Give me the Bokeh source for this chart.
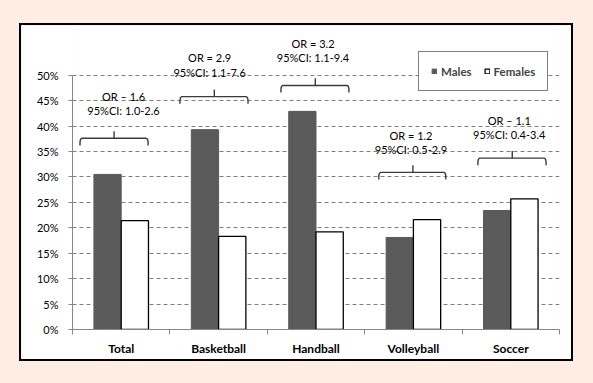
from bokeh.plotting import figure
from bokeh.models import (Range1d, FixedTicker, CustomJSTickFormatter, Legend,
                          LegendItem, ColumnDataSource)
from bokeh.core.properties import value
from bokeh.embed import file_html
from bokeh.resources import INLINE

# ---- data ----
categories = ["Total", "Basketball", "Handball", "Volleyball", "Soccer"]
males = [30.5, 39.3, 42.9, 18.1, 23.4]
females = [21.4, 18.3, 19.2, 21.6, 25.7]
or_labels = ["OR \u2013 1.6", "OR = 2.9", "OR = 3.2", "OR = 1.2", "OR \u2013 1.1"]
ci_labels = ["95%CI: 1.0-2.6", "95%CI: 1.1-7.6", "95%CI: 1.1-9.4",
             "95%CI: 0.5-2.9", "95%CI: 0.4-3.4"]
y_ticks = [0, 5, 10, 15, 20, 25, 30, 35, 40, 45, 50]

# ---- annotation placement (category units / percent) ----
bracket_left = [0.077, 1.103, 2.140, 3.145, 4.162]
bracket_right = [0.776, 1.802, 2.838, 3.833, 4.862]
bracket_mid = [0.427, 1.456, 2.493, 3.495, 4.515]
bracket_y = [37.6, 45.8, 48.0, 30.9, 33.7]
label_x = [0.524, 1.408, 2.469, 3.475, 4.484]
or_y = [45.9, 53.4, 56.2, 38.1, 41.2]
ci_y = [43.1, 50.6, 53.4, 35.4, 38.4]

FONT = "Lato"
MALE_COLOR = "#5a5a5a"
AXIS_COLOR = "#868686"

p = figure(width=550, height=334, output_backend="svg", toolbar_location=None,
           x_range=Range1d(0, 5), y_range=Range1d(0, 59),
           min_border_left=51, min_border_right=12, min_border_top=4,
           min_border_bottom=30)
p.margin = (25, 0, 0, 21)
p.styles = {"box-shadow": "0 0 0 2px black"}
p.background_fill_color = "white"
p.border_fill_color = "white"
p.outline_line_color = None

idx = list(range(len(categories)))
src = ColumnDataSource(dict(
    xm=[i + 0.36 for i in idx], xf=[i + 0.64 for i in idx],
    males=males, females=females))

rm = p.vbar(x="xm", top="males", width=0.28, source=src,
            fill_color=MALE_COLOR, line_color=MALE_COLOR)
rf = p.vbar(x="xf", top="females", width=0.28, source=src,
            fill_color="white", line_color="black", line_width=1.3)

# brackets
xs, ys = [], []
for x0, x1, y in zip(bracket_left, bracket_right, bracket_y):
    d = 1.4
    xs.append([x0, x0, x0 + 0.006, x0 + 0.02, x1 - 0.02, x1 - 0.006, x1, x1])
    ys.append([y - d, y - 0.5 * d, y - 0.12 * d, y, y, y - 0.12 * d, y - 0.5 * d, y - d])
p.multi_line(xs=xs, ys=ys, line_color="#3a3a3a", line_width=1.4)
p.segment(x0=bracket_mid, y0=bracket_y, x1=bracket_mid,
          y1=[y + 1.4 for y in bracket_y], line_color="#3a3a3a", line_width=1.4)

p.text(x=label_x, y=or_y, text=or_labels, text_align="center",
       text_baseline="middle", text_font=value(FONT), text_font_size="11px",
       text_color="black")
p.text(x=label_x, y=ci_y, text=ci_labels, text_align="center",
       text_baseline="middle", text_font=value(FONT), text_font_size="11px",
       text_color="black")

# axes
ya = p.yaxis[0]
ya.ticker = FixedTicker(ticks=y_ticks)
ya.formatter = CustomJSTickFormatter(code="return tick + '%';")
ya.bounds = (0, 50)
ya.axis_line_color = AXIS_COLOR
ya.major_tick_line_color = AXIS_COLOR
ya.major_tick_out = 4
ya.major_tick_in = 0
ya.minor_tick_line_color = None
ya.major_label_text_font = FONT
ya.major_label_text_font_size = "11px"
ya.major_label_text_color = "black"
ya.major_label_standoff = 10

xa = p.xaxis[0]
xa.ticker = FixedTicker(ticks=[i + 0.5 for i in idx],
                        minor_ticks=list(range(len(categories) + 1)))
xa.formatter = CustomJSTickFormatter(args=dict(names=categories),
                                     code="return names[Math.floor(tick)];")
xa.axis_line_color = AXIS_COLOR
xa.major_tick_line_color = None
xa.major_tick_out = 5
xa.minor_tick_line_color = AXIS_COLOR
xa.minor_tick_out = 5
xa.minor_tick_in = 0
xa.major_label_text_font = FONT
xa.major_label_text_font_style = "bold"
xa.major_label_text_font_size = "12px"
xa.major_label_text_color = "black"
xa.major_label_standoff = 6

p.xgrid.visible = False
p.ygrid.ticker = FixedTicker(ticks=y_ticks[1:])
p.ygrid.grid_line_color = "#7f7f7f"
p.ygrid.grid_line_dash = "4 3"
p.ygrid.grid_line_width = 1

legend = Legend(items=[LegendItem(label="Males", renderers=[rm]),
                       LegendItem(label="Females", renderers=[rf])],
                orientation="horizontal", location=(346, 238),
                border_line_color="black", border_line_width=1,
                background_fill_color="white", background_fill_alpha=1,
                glyph_width=6, glyph_height=6, label_standoff=4, spacing=12,
                padding=12, margin=0, label_text_font=FONT,
                label_text_font_style="bold",
                label_text_font_size="11.5px", label_height=14)
p.add_layout(legend)

html = file_html(p, INLINE)
html = html.replace("</head>", "<style>body{background:#fdede2;}</style></head>", 1)
open("out.html", "w").write(html)
